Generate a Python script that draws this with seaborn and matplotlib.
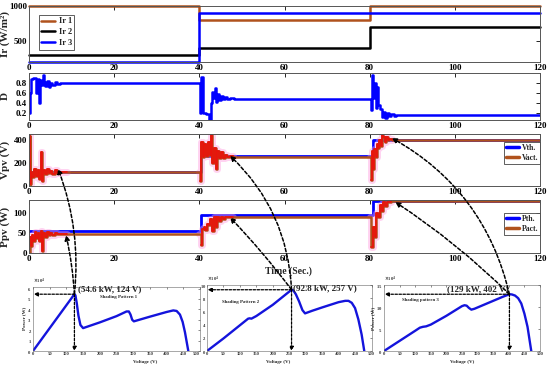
import numpy as np
import matplotlib
matplotlib.use("Agg")
import matplotlib.pyplot as plt
import seaborn as sns
from matplotlib.patches import ConnectionPatch
from matplotlib.lines import Line2D

# ---------------- data ----------------
t_step = [0, 40, 40, 80, 80, 120]
ir1 = [1000, 1000, 800, 800, 1000, 1000]
ir2 = [300, 300, 400, 400, 700, 700]
ir3 = [200, 200, 900, 900, 900, 900]

t_th = [0, 40.3, 40.3, 80.7, 80.7, 120]
v_th = [124, 124, 257, 257, 402, 402]
p_th = [54.6, 54.6, 92.8, 92.8, 129, 129]

t_d = [0, 0.2, 0.5, 1.0, 1.6, 2.0, 2.3, 2.6, 2.9, 3.2, 3.5, 3.8, 4.2, 4.6, 5.0, 5.5, 6.0, 6.6, 7.3, 8.2, 40.0,
       40.2, 40.5, 40.9, 41.5, 42.3, 42.7, 43.0, 43.3, 43.6, 43.9, 44.2, 44.6, 45.0, 45.5, 46.0, 46.6, 47.3, 48.2, 80.0,
       80.2, 80.5, 80.8, 81.1, 81.4, 81.7, 82.0, 82.4, 82.8, 83.2, 83.6, 84.0, 84.5, 85.0, 85.6, 86.3, 87.2, 120]
d_val = [0.2, 0.6, 0.88, 0.9, 0.6, 0.88, 0.4, 0.85, 0.75, 0.95, 0.82, 0.74, 0.84, 0.72, 0.8, 0.76, 0.81, 0.77, 0.8, 0.79, 0.79,
         0.2, 0.92, 0.2, 0.18, 0.0, 0.4, 0.62, 0.5, 0.7, 0.42, 0.58, 0.45, 0.53, 0.47, 0.51, 0.48, 0.5, 0.48, 0.48,
         0.25, 0.95, 0.5, 0.8, 0.3, 0.72, 0.35, 0.28, 0.12, 0.22, 0.1, 0.2, 0.13, 0.18, 0.14, 0.16, 0.15, 0.15]

t_vact = [0, 0.15, 0.3, 0.5, 0.8, 1.2, 1.6, 2.0, 2.4, 2.8, 3.1, 3.4, 3.8, 4.2, 4.6, 5.0, 5.5, 6.0, 6.6, 7.2, 8.0, 9.0, 40.0,
          40.2, 40.5, 40.8, 41.2, 41.6, 42.0, 42.4, 42.7, 43.0, 43.4, 43.8, 44.2, 44.6, 45.0, 45.5, 46.0, 46.6, 47.2, 48.0, 80.0,
          80.3, 80.6, 80.9, 81.1, 81.4, 81.7, 82.0, 82.3, 82.6, 82.9, 83.2, 83.5, 83.8, 84.2, 84.6, 85.2, 120]
v_act = [0, 430, 20, 120, 80, 150, 90, 140, 60, 290, 40, 140, 100, 150, 110, 130, 100, 135, 115, 125, 118, 120, 120,
         40, 380, 250, 360, 260, 380, 270, 440, 200, 330, 150, 300, 240, 290, 240, 268, 248, 258, 252, 253,
         50, 300, 150, 320, 250, 360, 330, 400, 350, 440, 420, 380, 425, 395, 405, 400, 400]

t_pact = [0, 0.2, 0.4, 0.7, 1.0, 1.3, 1.6, 2.0, 2.4, 2.8, 3.1, 3.4, 3.8, 4.2, 4.6, 5.0, 5.5, 6.0, 6.6, 7.2, 8.0, 9.0, 40.0,
          40.3, 40.6, 41.0, 41.4, 41.8, 42.2, 42.6, 43.0, 43.4, 43.8, 44.2, 44.6, 45.0, 45.5, 46.0, 46.6, 47.2, 48.0, 80.0,
          80.4, 80.8, 81.2, 81.6, 82.0, 82.4, 82.8, 83.2, 83.6, 84.0, 84.5, 85.0, 120]
p_act = [0, 40, 18, 45, 30, 52, 38, 50, 30, 55, 5, 50, 40, 52, 44, 50, 45, 49, 46, 48, 46.5, 47, 47,
         20, 60, 65, 58, 72, 70, 85, 55, 88, 65, 90, 80, 88, 85, 89, 88, 90, 89.5, 90,
         15, 65, 40, 100, 90, 118, 105, 127, 115, 127, 125, 127.5, 127.5]

# P-V curves (power in kW)
vA = [0, 124, 127, 131, 136, 142, 150, 200, 250, 270, 280, 287, 292, 297, 302, 350, 400, 420, 430, 440, 448, 455, 460, 465]
pA = [0, 54.6, 53.5, 46, 34, 25, 22, 27.5, 33.5, 36.5, 38, 38, 35, 30, 28.5, 33, 37.5, 39, 38.5, 35, 28, 18, 9, 0]
vB = [0, 50, 100, 120, 125, 130, 135, 150, 200, 257, 262, 270, 280, 290, 298, 320, 350, 400, 420, 430, 440, 450, 460, 470, 478]
pB = [0, 19, 39, 47, 49, 49.5, 49, 53, 70, 92.8, 92, 86, 75, 62, 57, 61, 66, 74, 76, 76, 73, 65, 48, 25, 0]
vC = [0, 50, 100, 115, 125, 135, 150, 200, 250, 258, 265, 272, 280, 290, 320, 350, 380, 402, 410, 420, 430, 440, 450, 460, 472]
pC = [0, 23, 46, 53, 55, 56, 60, 80, 102, 104, 103, 98, 94, 96, 105, 114, 123, 129, 128.5, 126, 120, 108, 85, 55, 0]

mpp_kw = [54.6, 92.8, 129]
mpp_v = [124, 257, 402]
mpp_labels = ["(54.6 kW, 124 V)", "(92.8 kW, 257 V)", "(129 kW, 402 V)"]
shade_labels = ["Shading Pattern 1", "Shading Pattern 2", "Shading pattern 3"]

# ---------------- style ----------------
sns.set_theme(style="white")
plt.rcParams['font.family'] = ['Liberation Serif', 'DejaVu Serif']
plt.rcParams['font.weight'] = 'bold'
plt.rcParams['axes.labelweight'] = 'bold'

BLUE = '#0000ff'
BROWN = '#b0521d'
RED = '#e8140c'
PINK = '#ff9ee0'

fig = plt.figure(figsize=(5.5, 3.68), dpi=100)
fig.patch.set_facecolor('white')


def add_ax(l, t, r, b):
    return fig.add_axes([l / 550, 1 - b / 368, (r - l) / 550, (b - t) / 368])


ax1 = add_ax(29, 6, 540, 62)
ax2 = add_ax(29, 73, 540, 120)
ax3 = add_ax(29, 134, 540, 186)
ax4 = add_ax(29, 200, 540, 253)
axA = add_ax(33, 286.5, 200, 351)
axB = add_ax(207, 285, 371.5, 351)
axC = add_ax(384, 285, 540, 351)


def line(ax, x, y, **kw):
    sns.lineplot(x=x, y=y, ax=ax, estimator=None, sort=False, legend=False, **kw)


def style_top(ax, yticks, ylim, ylabel):
    ax.set_xlim(0, 120)
    ax.set_ylim(*ylim)
    ax.set_xticks(range(0, 121, 20))
    ax.set_yticks(yticks)
    ax.tick_params(direction='in', top=True, right=True, length=3, width=0.6,
                   labelsize=6.5, pad=1.5, colors='black')
    for s in ax.spines.values():
        s.set_linewidth(0.7)
        s.set_color('#555555')
    ax.set_xlabel('')
    ax.set_ylabel(ylabel, fontsize=8, fontweight='bold')
    ax.yaxis.set_label_coords(-0.037, 0.5)


# Panel 1 : irradiance
line(ax1, t_step, ir1, color=BROWN, lw=1.8, clip_on=False)
line(ax1, t_step, ir2, color='black', lw=1.8, clip_on=False)
line(ax1, t_step, ir3, color=BLUE, lw=1.8, clip_on=False)
style_top(ax1, [500, 1000], (200, 1000), 'Ir (W/m²)')
h1 = [Line2D([], [], color=c, lw=1.8) for c in (BROWN, 'black', BLUE)]
ax1.legend(h1, ['Ir 1', 'Ir 2', 'Ir 3'], loc='upper left', bbox_to_anchor=(0.019, 0.84),
           fontsize=6, frameon=True, fancybox=False, edgecolor='#444444', framealpha=1,
           handlelength=1.6, borderpad=0.3, labelspacing=0.35, handletextpad=0.5, borderaxespad=0)
ax1.get_legend().get_frame().set_linewidth(0.6)

# Panel 2 : duty cycle
line(ax2, t_d, d_val, color=BLUE, lw=1.8, drawstyle='steps-post')
style_top(ax2, [0.2, 0.4, 0.6, 0.8], (0.05, 1.0), 'D')

windows = [(0, 9.0), (40, 48.0), (80, 85.2)]


def noisy(ax, t, y):
    t = np.asarray(t)
    y = np.asarray(y)
    for a, b in windows:
        m = (t >= a) & (t <= b)
        line(ax, t[m], y[m], color=PINK, lw=5, alpha=0.45, drawstyle='steps-post')
    line(ax, t, y, color=BROWN, lw=1.8, drawstyle='steps-post')
    for a, b in windows:
        m = (t >= a + 0.1) & (t <= b)
        line(ax, t[m], y[m], color=RED, lw=1.3, drawstyle='steps-post')


# Panel 3 : voltage
line(ax3, t_th, v_th, color=BLUE, lw=2.0)
noisy(ax3, t_vact, v_act)
style_top(ax3, [0, 200, 400], (0, 450), 'Vpv (V)')
h3 = [Line2D([], [], color=BLUE, lw=2.5), Line2D([], [], color=BROWN, lw=2.5)]
ax3.legend(h3, ['Vth.', 'Vact.'], loc='upper right', bbox_to_anchor=(1.0, 0.85),
           fontsize=5.5, frameon=True, fancybox=False, edgecolor='#444444', framealpha=1,
           handlelength=1.6, borderpad=0.25, labelspacing=0.25, handletextpad=0.4, borderaxespad=0)
ax3.get_legend().get_frame().set_linewidth(0.6)

# Panel 4 : power
line(ax4, t_th, p_th, color=BLUE, lw=2.0)
noisy(ax4, t_pact, p_act)
style_top(ax4, [0, 50, 100], (0, 131), 'Ppv (W)')
ax4.legend(h3, ['Pth.', 'Pact.'], loc='upper right', bbox_to_anchor=(1.0, 0.755),
           fontsize=5.5, frameon=True, fancybox=False, edgecolor='#444444', framealpha=1,
           handlelength=1.6, borderpad=0.25, labelspacing=0.25, handletextpad=0.4, borderaxespad=0)
ax4.get_legend().get_frame().set_linewidth(0.6)

fig.text(288 / 550, 1 - 271 / 368, 'Time (Sec.)', ha='center', va='center', fontsize=7, fontweight='bold')

# Bottom P-V curves
pv_axes = [axA, axB, axC]
pv_data = [(vA, pA), (vB, pB), (vC, pC)]
pv_ylim = [62000, 100000, 150000]
pv_yticks = [np.arange(0, 7) * 1e4, np.arange(0, 11, 2) * 1e4, np.arange(0, 16, 5) * 1e4]
xlab_pos = [0.67, 0.43, 0.5]
peak_txt_pos = [(0.27, 0.96), (0.523, 0.955), (0.404, 0.94)]
shade_pos = [(0.40, 0.84), (0.09, 0.74), (0.115, 0.77)]

for i, ax in enumerate(pv_axes):
    v, p = pv_data[i]
    line(ax, v, [q * 1000 for q in p], color='#1414dc', lw=1.7)
    ax.set_xlim(0, 500)
    ax.set_ylim(0, pv_ylim[i])
    ax.set_xticks(range(0, 501, 50))
    ax.set_yticks(pv_yticks[i])
    ax.ticklabel_format(style='sci', axis='y', scilimits=(4, 4), useMathText=True)
    ax.yaxis.get_offset_text().set_fontsize(3.3)
    ax.tick_params(direction='in', top=True, right=True, length=1.5, width=0.4,
                   labelsize=3.3, pad=1, colors='#333333')
    for s in ax.spines.values():
        s.set_linewidth(0.4)
        s.set_color('#666666')
    ax.set_xlabel('Voltage (V)', fontsize=3.6, labelpad=1)
    ax.xaxis.set_label_coords(xlab_pos[i], -0.14)
    if i != 1:
        ax.set_ylabel('Power (W)', fontsize=3.6, labelpad=1)
    else:
        ax.set_ylabel('')
        ax.tick_params(axis='y', pad=0.5)
    if i == 0:
        xl = ax.get_xticklabels()
        xl[-1].set_horizontalalignment('right')
    pm = mpp_kw[i] * 1000
    vm = mpp_v[i]
    ap = dict(arrowstyle='-|>', linestyle=(0, (2, 1.2)), lw=0.9, color='black',
              mutation_scale=6, shrinkA=0, shrinkB=0)
    ax.annotate('', xy=(2, pm), xytext=(vm, pm), arrowprops=ap)
    ax.annotate('', xy=(vm, 0), xytext=(vm, pm), arrowprops=ap)
    ax.text(*peak_txt_pos[i], mpp_labels[i], transform=ax.transAxes, fontsize=6.5,
            fontweight='bold', ha='left', va='center')
    ax.text(*shade_pos[i], shade_labels[i], transform=ax.transAxes, fontsize=3.4,
            fontweight='bold', ha='left', va='center')

# Curved dashed arrows from MPPs to time-domain panels
targets = [
    (axA, 0, ax3, (6.8, 150), 0.12), (axA, 0, ax4, (8.7, 44), 0.04),
    (axB, 1, ax3, (47.2, 262), 0.2), (axB, 1, ax4, (47.2, 88), 0.03),
    (axC, 2, ax3, (85.2, 415), 0.22), (axC, 2, ax4, (86.0, 126), 0.05),
]
for axs, k, axt, xyB, rad in targets:
    con = ConnectionPatch(xyA=(mpp_v[k], mpp_kw[k] * 1000), coordsA=axs.transData,
                          xyB=xyB, coordsB=axt.transData,
                          arrowstyle='-|>', connectionstyle=f'arc3,rad={rad}',
                          linestyle=(0, (2.2, 1.4)), lw=1.1, color='black',
                          mutation_scale=7, zorder=20)
    fig.add_artist(con)

fig.savefig('out.png', dpi=100)
